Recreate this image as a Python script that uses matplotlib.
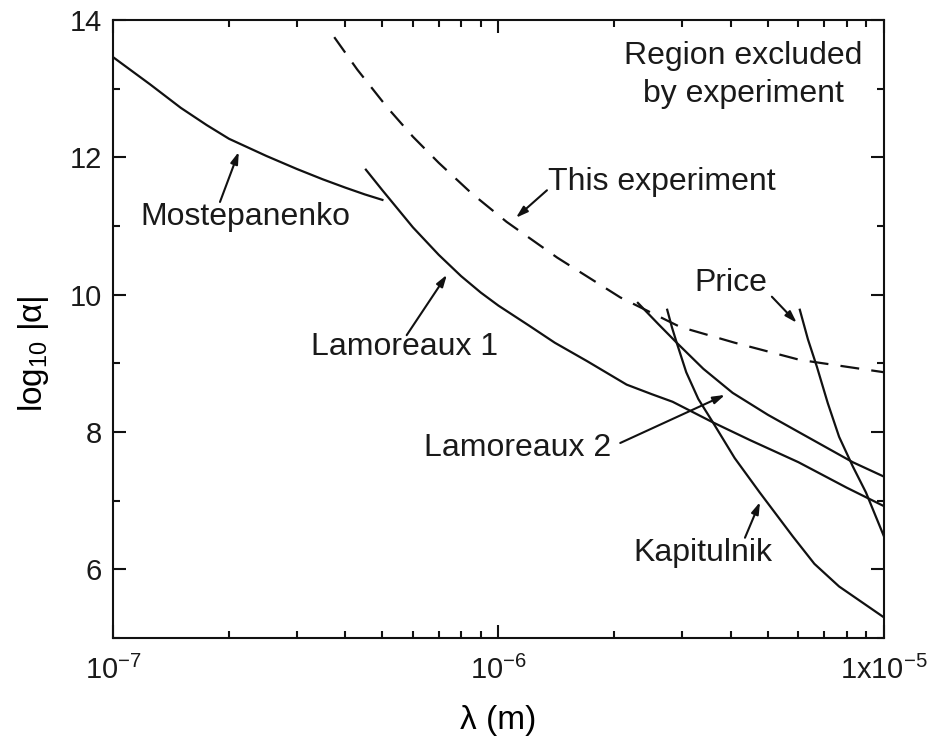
import numpy as np
import matplotlib
matplotlib.use('Agg')
import matplotlib.pyplot as plt
from matplotlib.ticker import FixedLocator, FixedFormatter, LogLocator, NullFormatter, MultipleLocator

plt.rcParams['font.family'] = ['Liberation Sans', 'DejaVu Sans']
plt.rcParams['mathtext.fontset'] = 'custom'
plt.rcParams['mathtext.rm'] = 'Liberation Sans'
plt.rcParams['mathtext.it'] = 'Liberation Sans:italic'
plt.rcParams['mathtext.bf'] = 'Liberation Sans:bold'
plt.rcParams['text.color'] = '#1a1a1a'

# curves: lambda (m), log10|alpha|
mostepanenko_x = [1.0e-7, 1.25e-7, 1.5e-7, 1.75e-7, 2.0e-7, 2.5e-7, 3.0e-7, 3.5e-7, 4.0e-7, 4.5e-7, 5.0e-7]
mostepanenko_y = [13.46, 13.06, 12.72, 12.47, 12.27, 12.02, 11.83, 11.68, 11.56, 11.46, 11.38]

lam1_x = [4.53e-7, 5.0e-7, 6.0e-7, 7.0e-7, 8.0e-7, 9.0e-7, 1.0e-6, 1.2e-6, 1.4e-6, 1.7e-6,
          2.15e-6, 2.5e-6, 2.83e-6, 3.6e-6, 4.5e-6, 6.0e-6, 8.0e-6, 1.0e-5]
lam1_y = [11.82, 11.52, 10.98, 10.58, 10.27, 10.03, 9.84, 9.55, 9.30, 9.03,
          8.69, 8.55, 8.44, 8.14, 7.88, 7.56, 7.19, 6.92]

this_x = [3.75e-7, 4.3e-7, 5.14e-7, 6.0e-7, 7.0e-7, 8.5e-7, 1.05e-6, 1.42e-6, 2.07e-6,
          2.96e-6, 4.1e-6, 6.05e-6, 1.0e-5]
this_y = [13.75, 13.28, 12.73, 12.30, 11.92, 11.48, 11.06, 10.54, 9.96,
          9.53, 9.30, 9.05, 8.87]

lam2_x = [2.3e-6, 2.6e-6, 2.9e-6, 3.4e-6, 4.05e-6, 5.0e-6, 6.05e-6, 8.3e-6, 1.0e-5]
lam2_y = [9.88, 9.57, 9.30, 8.92, 8.57, 8.25, 7.99, 7.56, 7.35]

kap_x = [2.74e-6, 2.82e-6, 2.9e-6, 3.07e-6, 3.3e-6, 3.6e-6, 4.1e-6, 4.76e-6, 5.8e-6, 6.6e-6, 7.65e-6, 1.0e-5]
kap_y = [9.78, 9.52, 9.30, 8.87, 8.48, 8.14, 7.62, 7.12, 6.48, 6.08, 5.75, 5.30]

price_x = [6.05e-6, 6.35e-6, 6.7e-6, 7.15e-6, 7.65e-6, 8.3e-6, 8.98e-6, 1.0e-5]
price_y = [9.78, 9.35, 8.95, 8.42, 7.93, 7.50, 7.12, 6.48]

fig = plt.figure(figsize=(9.29, 7.46), dpi=100)
ax = fig.add_axes([0.1216, 0.1448, 0.8299, 0.8284])

lw = 1.6
ink = '#111111'
ax.plot(mostepanenko_x, mostepanenko_y, color=ink, lw=lw)
ax.plot(lam1_x, lam1_y, color=ink, lw=lw)
ax.plot(lam2_x, lam2_y, color=ink, lw=lw)
ax.plot(kap_x, kap_y, color=ink, lw=lw)
ax.plot(price_x, price_y, color=ink, lw=lw)
ax.plot(this_x, this_y, color=ink, lw=lw, dashes=(8.5, 5.5))

ax.set_xscale('log')
ax.set_xlim(1e-7, 1e-5)
ax.set_ylim(5.0, 14.0)

ax.xaxis.set_major_locator(FixedLocator([1e-7, 1e-6, 1e-5]))
ax.xaxis.set_major_formatter(FixedFormatter([r'$10^{-7}$', r'$10^{-6}$', r'$1\mathrm{x}10^{-5}$']))
ax.xaxis.set_minor_locator(LogLocator(base=10, subs=np.arange(2, 10), numticks=20))
ax.xaxis.set_minor_formatter(NullFormatter())
ax.yaxis.set_major_locator(FixedLocator([6, 8, 10, 12, 14]))
ax.yaxis.set_minor_locator(MultipleLocator(1))

ax.tick_params(which='both', direction='in', top=True, right=True, width=1.5,
               labelsize=21, colors=ink, labelcolor='#1a1a1a')
ax.tick_params(which='major', length=9.5, pad=8)
ax.tick_params(axis='x', which='major', pad=13)
ax.tick_params(which='minor', length=5)
for s in ax.spines.values():
    s.set_linewidth(1.5)
    s.set_color(ink)

ax.set_xlabel(r'λ (m)', fontsize=24, labelpad=14)
ax.set_ylabel(r'log$_{10}$ |α|', fontsize=24)
ax.yaxis.set_label_coords(-0.08, 0.46)

fs = 23
ap = dict(arrowstyle='-|>,head_length=0.7,head_width=0.22', lw=1.5, color=ink,
          shrinkA=0, shrinkB=0)

ax.text(2.2e-7, 11.13, 'Mostepanenko', fontsize=fs, ha='center', va='center')
ax.annotate('', xy=(2.12e-7, 12.08), xytext=(1.895e-7, 11.35), arrowprops=ap)

ax.text(5.72e-7, 9.24, 'Lamoreaux 1', fontsize=fs, ha='center', va='center')
ax.annotate('', xy=(7.35e-7, 10.29), xytext=(5.78e-7, 9.41), arrowprops=ap)

ax.text(1.343e-6, 11.64, 'This experiment', fontsize=fs, ha='left', va='center')
ax.annotate('', xy=(1.11e-6, 11.12), xytext=(1.336e-6, 11.52), arrowprops=ap)

ax.text(4.01e-6, 10.17, 'Price', fontsize=fs, ha='center', va='center')
ax.annotate('', xy=(5.94e-6, 9.59), xytext=(5.12e-6, 9.97), arrowprops=ap)

ax.text(1.124e-6, 7.77, 'Lamoreaux 2', fontsize=fs, ha='center', va='center')
ax.annotate('', xy=(3.87e-6, 8.54), xytext=(2.07e-6, 7.84), arrowprops=ap)

ax.text(3.39e-6, 6.24, 'Kapitulnik', fontsize=fs, ha='center', va='center')
ax.annotate('', xy=(4.77e-6, 6.98), xytext=(4.36e-6, 6.46), arrowprops=ap)

ax.text(4.31e-6, 13.2, 'Region excluded\nby experiment', fontsize=fs, ha='center',
        va='center', multialignment='center', linespacing=1.35)

fig.savefig('out.png', dpi=100)
